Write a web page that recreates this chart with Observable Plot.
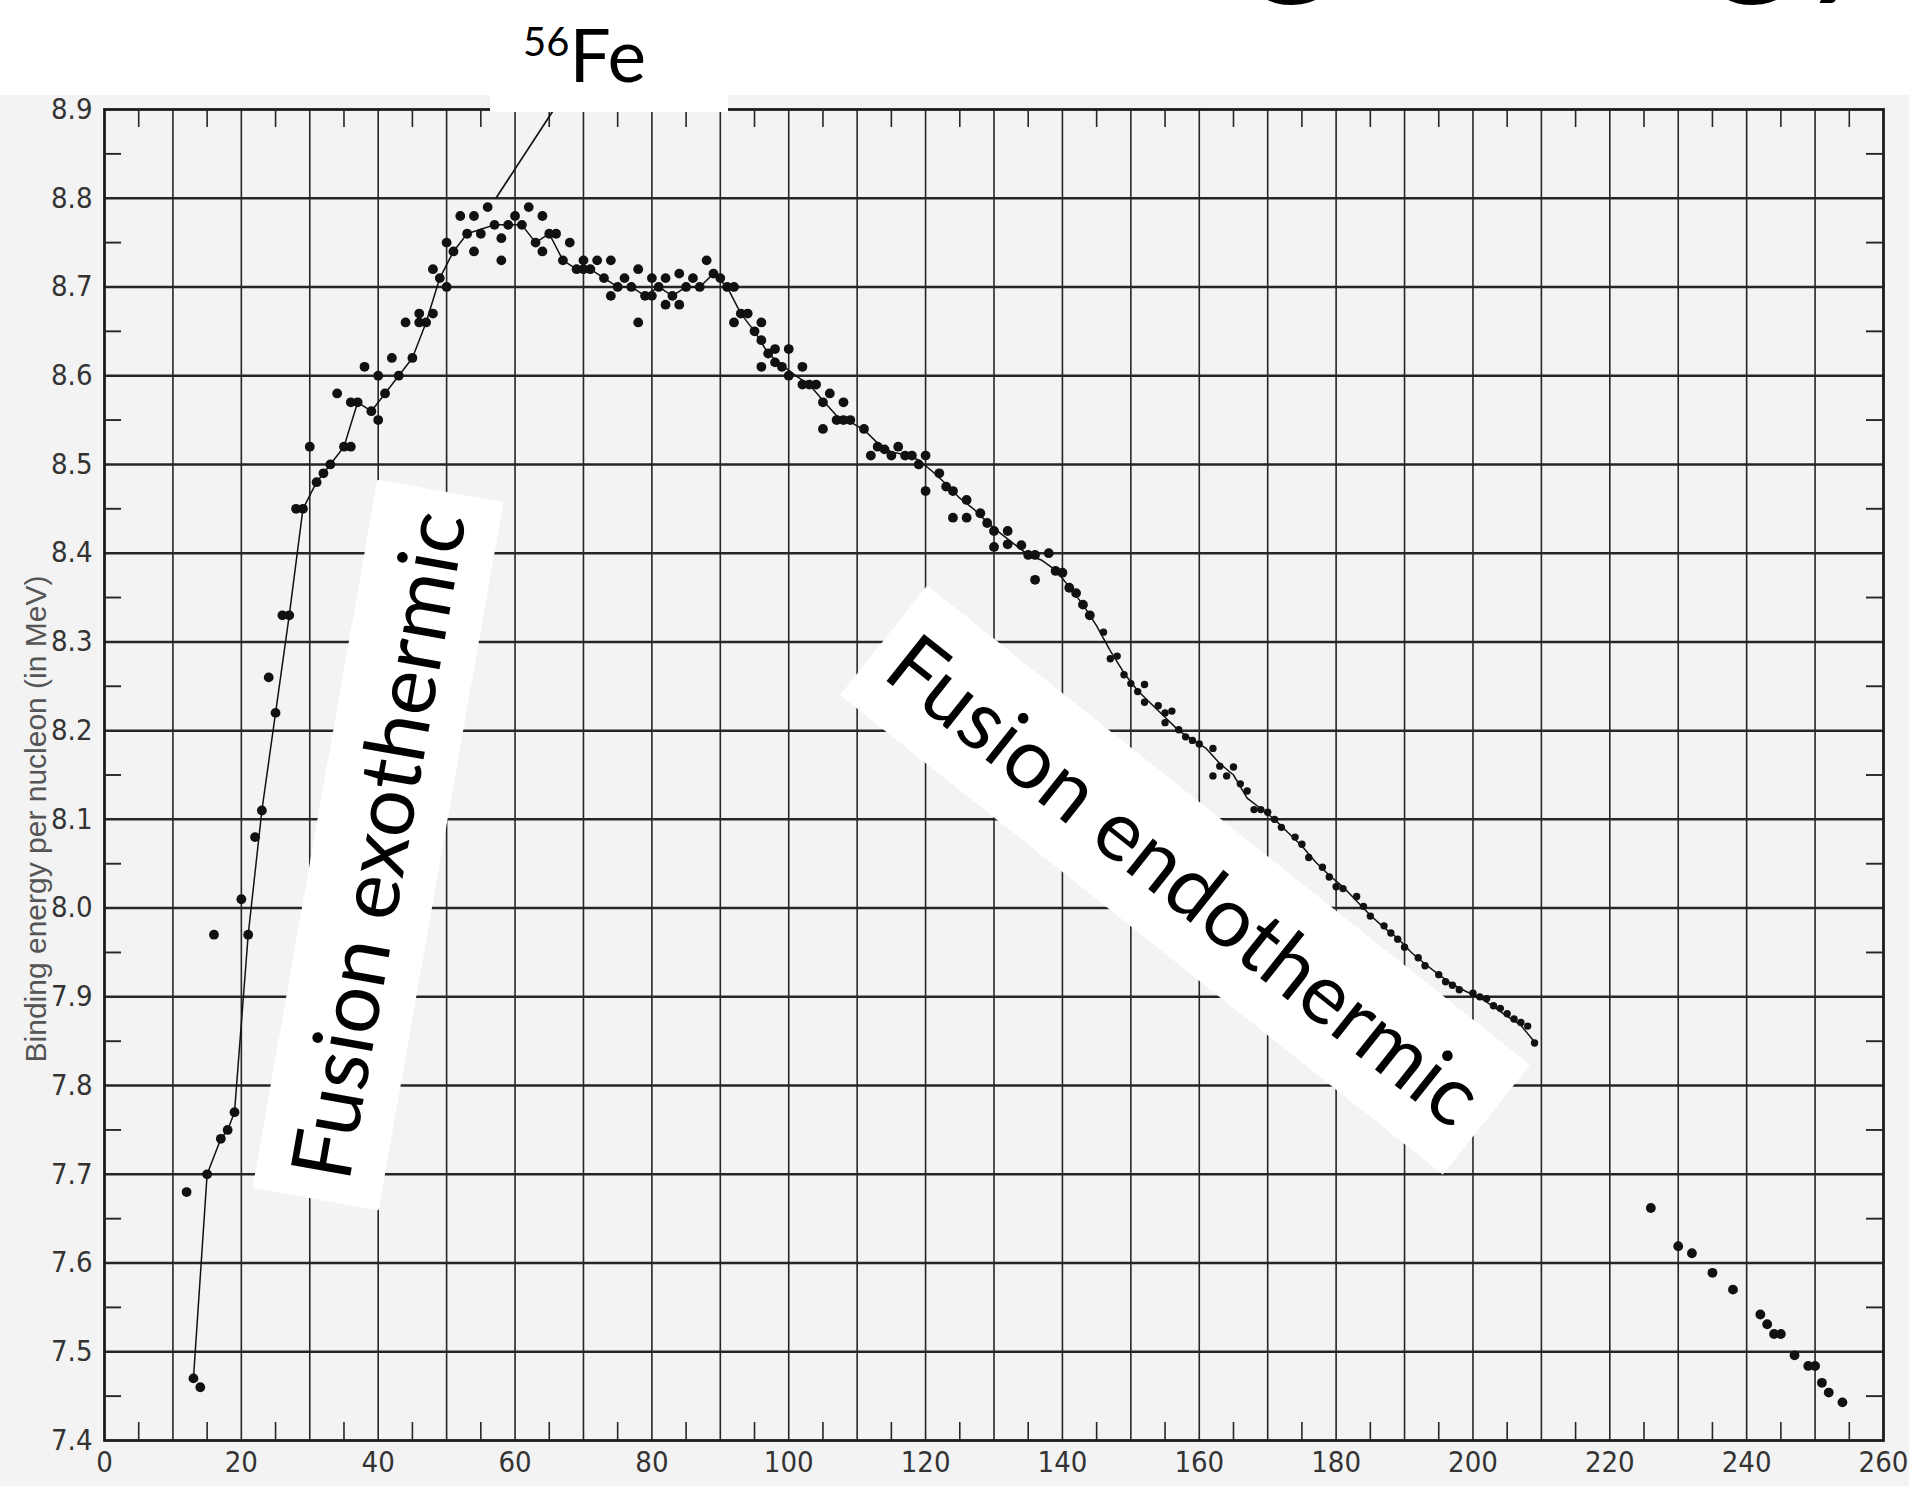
<!DOCTYPE html>
<html>
<head>
<meta charset="utf-8">
<script src="https://cdn.jsdelivr.net/npm/d3@7"></script>
<script src="https://cdn.jsdelivr.net/npm/@observablehq/plot@0.6"></script>
<style>
html, body { margin: 0; padding: 0; background: #fff; }
#chart { width: 1909px; height: 1486px; overflow: hidden; }
</style>
</head>
<body>
<div id="chart"></div>
<script>
// ---- tick labels ----
const xTicks = [0, 20, 40, 60, 80, 100, 120, 140, 160, 180, 200, 220, 240, 260];
const yTicks = [7.4, 7.5, 7.6, 7.7, 7.8, 7.9, 8.0, 8.1, 8.2, 8.3, 8.4, 8.5, 8.6, 8.7, 8.8, 8.9];
const yLabel = "Binding energy per nucleon (in MeV)";

// ---- measured nuclides: mass number A, binding energy per nucleon B (MeV) ----
const dotA = [12,13,14,15,16,17,18,19,20,21,22,23,24,25,26,27,28,29,30,31,32,33,34,35,36,36,37,38,39,40,40,41,42,43,44,45,46,46,47,48,48,49,50,50,51,52,53,54,54,55,56,57,58,58,59,60,61,62,63,64,64,65,66,67,68,69,70,70,71,72,73,74,74,75,76,77,78,78,79,80,80,81,82,82,83,84,84,85,86,87,88,89,90,91,92,92,93,94,95,96,96,96,97,98,98,99,100,100,
  102,102,103,104,105,106,105,107,108,108,109,111,112,113,114,115,116,117,118,119,120,120,122,123,124,124,126,126,128,129,130,130,132,132,134,135,136,136,138,139,140,141,142,143,144,
  146,147,148,149,150,151,152,152,154,155,156,155,157,158,159,160,162,162,163,164,165,166,167,168,169,170,171,172,174,175,176,178,179,180,181,183,184,185,187,188,189,190,192,193,195,196,197,198,200,201,202,203,204,205,206,207,208,209,
  226,230,232,235,238,242,243,244,245,247,249,250,251,252,254];
const dotB = [7.68,7.47,7.46,7.70,7.97,7.74,7.75,7.77,8.01,7.97,8.08,8.11,8.26,8.22,8.33,8.33,8.45,8.45,8.52,8.48,8.49,8.50,8.58,8.52,8.52,8.57,8.57,8.61,8.56,8.55,8.60,8.58,8.62,8.60,8.66,8.62,8.67,8.66,8.66,8.67,8.72,8.71,8.70,8.75,8.74,8.78,8.76,8.74,8.78,8.76,8.79,8.77,8.755,8.73,8.77,8.78,8.77,8.79,8.75,8.74,8.78,8.76,8.76,8.73,8.75,8.72,8.73,8.72,8.72,8.73,8.71,8.73,8.69,8.70,8.71,8.70,8.72,8.66,8.69,8.71,8.69,8.70,8.71,8.68,8.69,8.715,8.68,8.70,8.71,8.70,8.73,8.715,8.71,8.70,8.70,8.66,8.67,8.67,8.65,8.66,8.64,8.61,8.625,8.615,8.63,8.61,8.63,8.60,
  8.61,8.59,8.59,8.59,8.57,8.58,8.54,8.55,8.55,8.57,8.55,8.54,8.51,8.52,8.517,8.51,8.52,8.51,8.51,8.50,8.51,8.47,8.49,8.475,8.47,8.44,8.46,8.44,8.445,8.434,8.425,8.407,8.425,8.41,8.409,8.398,8.398,8.37,8.40,8.38,8.378,8.361,8.355,8.342,8.33,
  8.311,8.281,8.284,8.263,8.253,8.244,8.252,8.232,8.228,8.220,8.222,8.209,8.201,8.193,8.189,8.185,8.180,8.149,8.160,8.149,8.159,8.140,8.132,8.111,8.111,8.108,8.100,8.091,8.080,8.072,8.057,8.046,8.035,8.024,8.022,8.013,8.002,7.991,7.980,7.972,7.965,7.956,7.944,7.935,7.925,7.917,7.913,7.908,7.904,7.900,7.898,7.890,7.887,7.881,7.875,7.871,7.867,7.848,
  7.662,7.619,7.611,7.589,7.570,7.542,7.531,7.520,7.520,7.496,7.484,7.484,7.465,7.454,7.443];

// ---- smooth curve drawn through the data ----
const curveA = [13,15,17,18,19,21,23,25,27,29,31,33,35,37,39,41,43,45,47,49,51,53,55,57,59,61,63,65,67,69,71,73,75,77,79,81,83,85,87,89,91,93,95,97,99,101,103,105,107,109,111,113,115,117,119,121,123,125,127,129,131,133,135,137,139,141,143,145,147,149,151,153,155,157,159,161,163,165,167,169,171,173,175,177,179,181,183,185,187,189,191,193,195,197,199,201,203,205,207,209];
const curveB = [7.47,7.70,7.74,7.75,7.77,7.97,8.11,8.22,8.33,8.45,8.48,8.50,8.52,8.57,8.56,8.58,8.60,8.62,8.66,8.71,8.74,8.76,8.765,8.77,8.77,8.77,8.75,8.76,8.73,8.72,8.72,8.71,8.70,8.70,8.69,8.70,8.69,8.70,8.70,8.715,8.70,8.67,8.65,8.625,8.612,8.60,8.59,8.572,8.555,8.548,8.539,8.524,8.514,8.511,8.505,8.492,8.478,8.462,8.45,8.435,8.422,8.41,8.398,8.392,8.381,8.362,8.342,8.318,8.29,8.265,8.245,8.23,8.215,8.2,8.19,8.18,8.163,8.15,8.124,8.112,8.1,8.085,8.07,8.052,8.037,8.024,8.008,7.992,7.978,7.966,7.95,7.937,7.925,7.914,7.906,7.899,7.889,7.878,7.868,7.849];

// ---- annotation for 56Fe ----
const feLabel = {num: "56", sym: "Fe"};
const feArrowA = [57.2, 67.2];
const feArrowB = [8.80, 8.918];

const dots = dotA.map((A, i) => ({A, B: dotB[i]}));
const curve = curveA.map((A, i) => ({A, B: curveB[i]}));
const feArrow = [{A1: feArrowA[0], B1: feArrowB[0], A2: feArrowA[1], B2: feArrowB[1]}];

const W = 1909, H = 1486, mL = 104, mR = 26, mT = 109, mB = 46;
const fw = W - mL - mR, fh = H - mT - mB;
const gridX = d3.range(10, 260, 10);
const gridY = yTicks.slice(1, -1);
const minorX = d3.range(5, 260, 10);
const minorY = yTicks.slice(0, -1).map(v => v + 0.05);
const inkGrid = "#262626";
const tickFont = '"Liberation Sans Narrow","DejaVu Sans Condensed","Liberation Sans",sans-serif';

const plot = Plot.plot({
  width: W, height: H,
  marginLeft: mL, marginRight: mR, marginTop: mT, marginBottom: mB,
  x: {domain: [0, 260], label: null},
  y: {domain: [7.4, 8.9], label: null},
  style: {background: "transparent", fontFamily: tickFont, fontSize: "29px", color: "#333"},
  marks: [
    Plot.ruleX(gridX, {stroke: inkGrid, strokeWidth: 1.6}),
    Plot.ruleY(gridY, {stroke: inkGrid, strokeWidth: 2.5}),
    Plot.frame({stroke: "#1c1c1c", strokeWidth: 2.8}),
    Plot.tickX(minorX, {x: d => d, insetTop: fh - 18, stroke: inkGrid, strokeWidth: 1.6, ariaLabel: "minor-bottom"}),
    Plot.tickX(minorX, {x: d => d, insetBottom: fh - 18, stroke: inkGrid, strokeWidth: 1.6}),
    Plot.tickY(minorY, {y: d => d, insetRight: fw - 17, stroke: inkGrid, strokeWidth: 1.9}),
    Plot.tickY(minorY, {y: d => d, insetLeft: fw - 17, stroke: inkGrid, strokeWidth: 1.9}),
    Plot.line(curve, {x: "A", y: "B", stroke: "#111", strokeWidth: 1.5}),
    Plot.dot(dots.filter(d => d.A < 145 || d.A > 215), {x: "A", y: "B", r: 4.9, fill: "#111", stroke: "none"}),
    Plot.dot(dots.filter(d => d.A >= 145 && d.A <= 215), {x: "A", y: "B", r: 3.7, fill: "#111", stroke: "none"}),
    Plot.link(feArrow, {x1: "A1", y1: "B1", x2: "A2", y2: "B2", stroke: "#111", strokeWidth: 1.7}),
    Plot.axisX(xTicks, {anchor: "bottom", tickSize: 0, tickPadding: 11, label: null, fill: "#333"}),
    Plot.axisY(yTicks, {anchor: "left", tickSize: 0, tickPadding: 12, label: null, tickFormat: d => d.toFixed(1), fill: "#333"}),
    Plot.text([yLabel], {frameAnchor: "left", textAnchor: "middle", dx: -68, dy: 44, rotate: -90, fontSize: 30,
      fontFamily: '"Liberation Sans",Arial,sans-serif', fill: "#555", ariaLabel: "y-title"})
  ]
});

const svg = d3.select(plot);
// paper: white slide with the grey scanned chart below
svg.insert("rect", ":first-child").attr("x", 0).attr("y", 95).attr("width", W).attr("height", H - 95).attr("fill", "#f3f3f3");
svg.insert("rect", ":first-child").attr("x", 0).attr("y", 0).attr("width", W).attr("height", H).attr("fill", "#fff");

// white cut-outs (pasted on the slide) sitting over the grid
const cut = svg.insert("g", 'g[aria-label="minor-bottom"]');
cut.append("rect").attr("x", 490).attr("y", 0).attr("width", 238).attr("height", 112).attr("fill", "#fff");
const exo = {cx: 378, cy: 845, angle: -80, L: 719, Hh: 128};
const endo = {cx: 1185, cy: 880, angle: 38.5, L: 770, Hh: 140};
for (const b of [exo, endo]) {
  cut.append("rect")
    .attr("transform", `translate(${b.cx},${b.cy}) rotate(${b.angle})`)
    .attr("x", -b.L / 2).attr("y", -b.Hh / 2).attr("width", b.L).attr("height", b.Hh)
    .attr("fill", "#fff");
}

// slide texts
const slideFont = 'Lato,"Open Sans","Noto Sans",sans-serif';
const labels = [
  {b: exo, text: "Fusion exothermic"},
  {b: endo, text: "Fusion endothermic"}
];
for (const {b, text} of labels) {
  svg.append("text")
    .attr("transform", `translate(${b.cx},${b.cy}) rotate(${b.angle})`)
    .attr("y", 30)
    .attr("text-anchor", "middle")
    .attr("font-family", slideFont)
    .attr("font-size", 84)
    .attr("fill", "#000")
    .text(text);
}
const fe = svg.append("text").attr("x", 523).attr("y", 82).attr("text-anchor", "start")
  .attr("font-family", slideFont).attr("fill", "#000");
fe.append("tspan").attr("font-size", 40).attr("dy", -26).text(feLabel.num);
fe.append("tspan").attr("font-size", 73).attr("dy", 26).text(feLabel.sym);

// slide title, mostly cut off by the top edge
svg.append("text").attr("x", 781).attr("y", -26).attr("text-anchor", "start").attr("font-family", slideFont)
  .attr("font-size", 168).attr("fill", "#000").text("Binding energy");

document.getElementById("chart").append(plot);

// fit the y title to the length it has in the scan
const yt = plot.querySelector('g[aria-label="y-title"] text');
if (yt && yt.getComputedTextLength) {
  const len = yt.getComputedTextLength();
  if (len > 0) {
    const fs = 30 * 455 / len;
    yt.setAttribute("font-size", fs.toFixed(1));
    yt.style.fontSize = fs.toFixed(1) + "px";
  }
}
</script>
</body>
</html>
